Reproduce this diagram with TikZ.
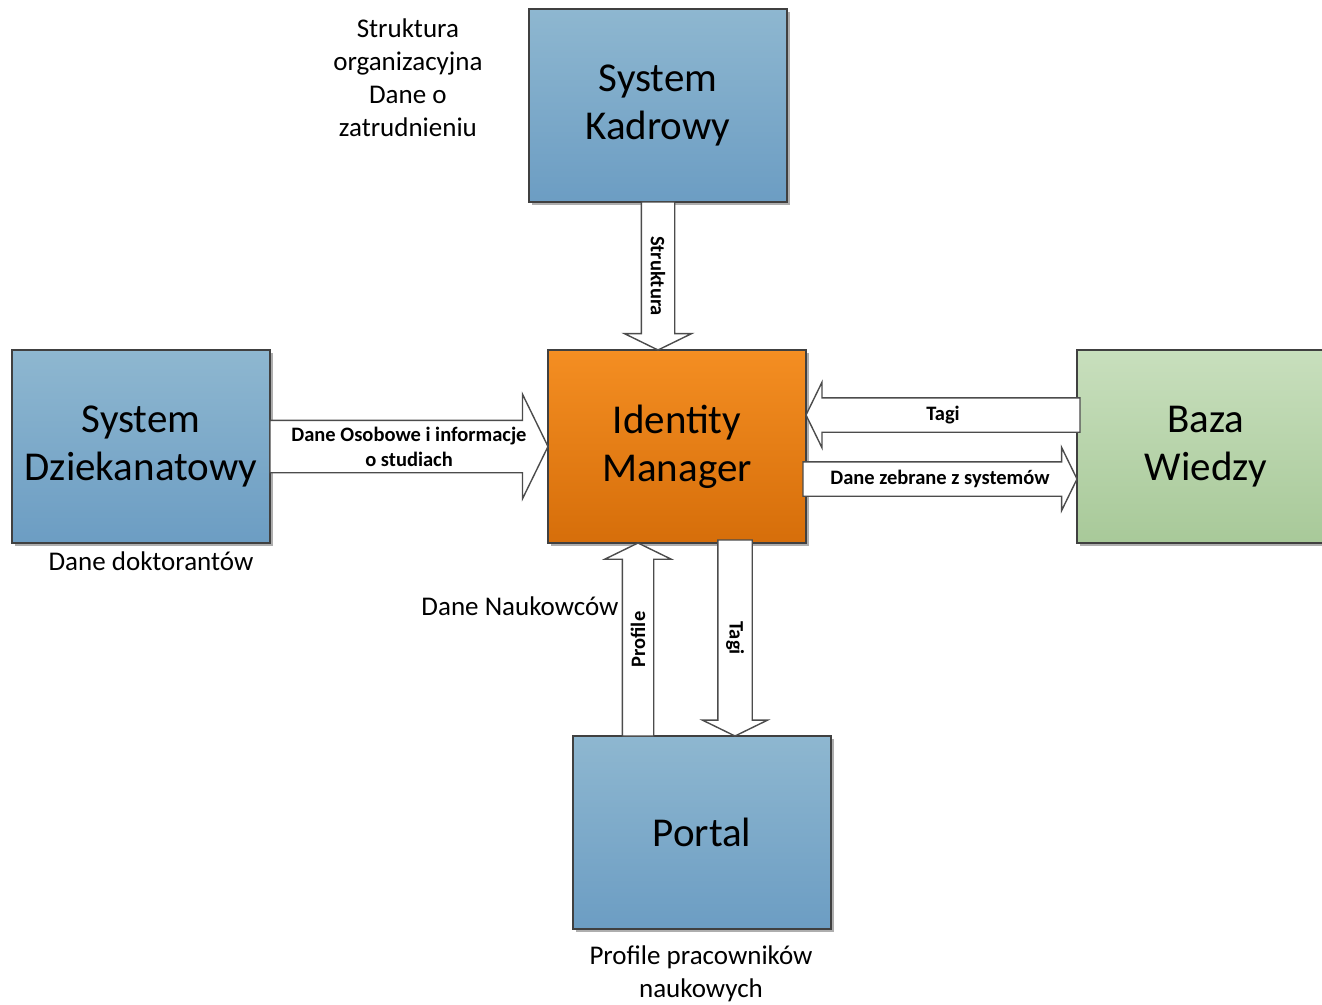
\documentclass[tikz,border=0pt]{standalone}
\usepackage{fontspec}
\setmainfont{Carlito}
\usetikzlibrary{shapes.arrows, positioning, calc, shadows}

\definecolor{blueTop}{RGB}{142,183,208}
\definecolor{blueBot}{RGB}{108,157,195}
\definecolor{orangeTop}{RGB}{244,142,34}
\definecolor{orangeBot}{RGB}{214,110,10}
\definecolor{greenTop}{RGB}{200,223,189}
\definecolor{greenBot}{RGB}{168,201,153}

\begin{document}
\begin{tikzpicture}[
    x=1pt, y=1pt,
    box/.style={rectangle, draw=black!75, line width=1.3pt, outer sep=0pt, minimum width=258pt, minimum height=193pt, align=center, font=\fontsize{41}{48}\selectfont, drop shadow={shadow xshift=3pt, shadow yshift=-3pt, fill=black!45, opacity=.7}},
    bluebox/.style={box, top color=blueTop, bottom color=blueBot},
    fatarrow/.style={single arrow, draw=black!70, fill=white, line width=1.4pt, outer sep=0pt, minimum width=0pt, single arrow tip angle=128},
    tag/.style={font=\bfseries\fontsize{20.5}{25}\selectfont, align=center, inner sep=0pt},
    note/.style={font=\fontsize{27}{33}\selectfont, align=center}
]
\useasboundingbox (0,0) rectangle (1322,-1004);

% Main system
\node[box, top color=orangeTop, bottom color=orangeBot] (idm) at (677,-446.5) {Identity\\Manager};

% Surrounding systems
\node[bluebox, above=148pt of idm, xshift=-19pt] (kadrowy) {System\\Kadrowy};
\node[bluebox, left=278pt of idm] (dziek) {System\\Dziekanatowy};
\node[box, top color=greenTop, bottom color=greenBot, right=271pt of idm] (baza) {Baza\\Wiedzy};
\node[bluebox, below=193pt of idm, xshift=25pt] (portal) {Portal};

% Data flows
\node[fatarrow, inner sep=16pt, single arrow head extend=17pt, minimum height=148pt, shape border rotate=270, anchor=tail] (struktura) at (kadrowy.south) {};
\node[tag, rotate=-90] at ($(struktura.tail)!.5!(struktura.tip)$) {Struktura};

\node[fatarrow, inner sep=25.5pt, single arrow head extend=26pt, minimum height=278pt, anchor=tail] (osobowe) at (dziek.east) {};
\node[tag] at ($(osobowe.tail)!.5!(osobowe.tip)$) {Dane Osobowe i informacje\\o studiach};

\node[fatarrow, inner sep=16.5pt, single arrow head extend=15.5pt, minimum height=274pt, shape border rotate=180, anchor=tip] (tagiin) at ($(idm.east)+(0,31.5)$) {};
\node[tag] at ($(tagiin.tail)!.5!(tagiin.tip)$) {Tagi};

\node[fatarrow, inner sep=16.5pt, single arrow head extend=14.5pt, minimum height=274pt, anchor=tip] (zebrane) at ($(baza.west)+(0,-32.5)$) {};
\node[tag] at ($(zebrane.tail)!.5!(zebrane.tip)$) {Dane zebrane z systemów};

\node[fatarrow, inner sep=15pt, single arrow head extend=17.5pt, minimum height=193pt, shape border rotate=90, anchor=tail] (profile) at ($(portal.north)+(-64,0)$) {};
\node[tag, rotate=90] at ($(profile.tail)!.5!(profile.tip)$) {Profile};

\node[fatarrow, inner sep=16.5pt, single arrow head extend=15.5pt, minimum height=196pt, shape border rotate=270, anchor=tip] (tagiout) at ($(portal.north)+(33,0)$) {};
\node[tag, rotate=-90] at ($(tagiout.tail)!.5!(tagiout.tip)$) {Tagi};

% Notes
\node[note, left=43pt of kadrowy, yshift=28pt] (orgnote) {Struktura\\organizacyjna\\Dane o\\zatrudnieniu};
\node[note, below=5pt of dziek, xshift=10pt] (doktnote) {Dane doktorantów};
\node[note, anchor=base east] (naukowcy) at ($(idm.south west)+(74,-72)$) {Dane Naukowców};
\node[note, below=13pt of portal, xshift=-1pt] (profnote) {Profile pracowników\\naukowych};

\end{tikzpicture}
\end{document}
